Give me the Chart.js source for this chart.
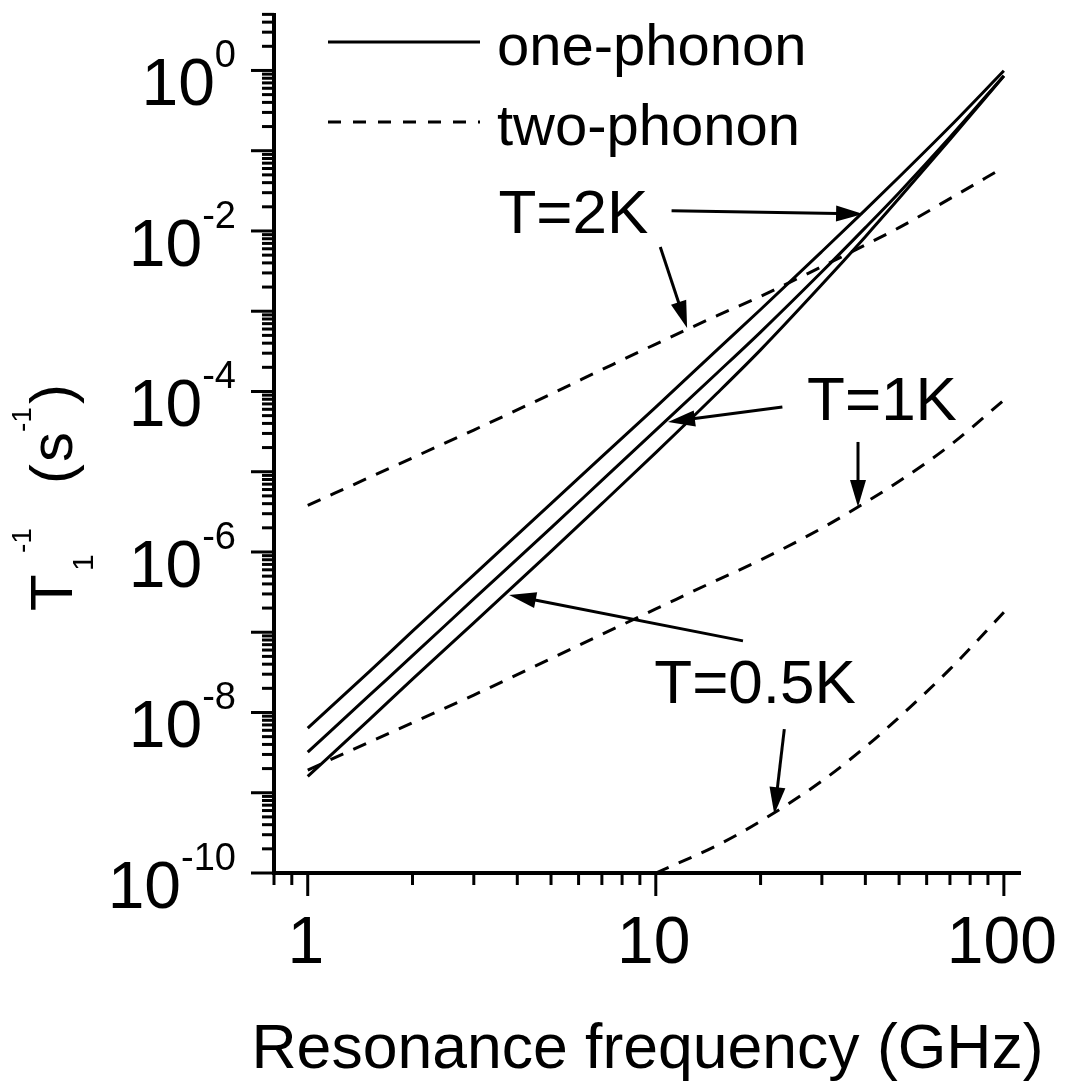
<!DOCTYPE html>
<html lang="en">
<head>
<meta charset="UTF-8" />
<title>T1 relaxation rate vs frequency</title>
<style>
  html, body { margin: 0; padding: 0; background: #fff; }
  #wrap { width: 1065px; height: 1088px; }
</style>
</head>
<body>
<div id="wrap"><canvas id="chart" width="1065" height="1088"></canvas></div>

<script src="https://cdn.jsdelivr.net/npm/chart.js"></script>
<script>
  const freq = [1, 1.5, 2, 3, 5, 7, 10, 15, 20, 30, 40, 50, 70, 100];
  // the 0.5 K two-phonon curve only enters the plot at ~10 GHz
  const freqLow = [10, 15, 20, 30, 40, 50, 70, 100];

  // one-phonon rates (s^-1)
  const onePhonon2K  = [6.4e-9, 3.2e-8, 1.03e-7, 5.2e-7, 4.0e-6, 1.54e-5, 6.4e-5, 3.3e-4, 1.05e-3, 5.55e-3, 1.83e-2, 4.7e-2, 0.20, 0.99];
  const onePhonon1K  = [3.2e-9, 1.62e-8, 5.1e-8, 2.6e-7, 2.0e-6, 7.8e-6, 3.3e-5, 1.7e-4, 5.5e-4, 3.1e-3, 1.1e-2, 3.0e-2, 0.147, 0.86];
  const onePhonon05K = [1.6e-9, 8.1e-9, 2.6e-8, 1.31e-7, 1.02e-6, 4.0e-6, 1.73e-5, 9.5e-5, 3.3e-4, 2.15e-3, 8.5e-3, 2.55e-2, 0.138, 0.85];

  // two-phonon rates (s^-1)
  const twoPhonon2K  = [3.8e-6, 8.45e-6, 1.49e-5, 3.31e-5, 9.3e-5, 1.87e-4, 3.9e-4, 8.8e-4, 1.53e-3, 3.6e-3, 6.7e-3, 1.1e-2, 2.53e-2, 6.2e-2];
  const twoPhonon1K  = [1.92e-9, 4.25e-9, 7.46e-9, 1.65e-8, 4.7e-8, 9.4e-8, 1.95e-7, 4.47e-7, 7.94e-7, 1.98e-6, 4.13e-6, 7.6e-6, 2.13e-5, 7.8e-5];
  const twoPhonon05K = [1.0e-10, 2.21e-10, 4.42e-10, 1.40e-9, 3.72e-9, 8.7e-9, 3.47e-8, 1.77e-7];

  // axis ticks
  const xMajorTicks = [1, 10, 100];
  const xMinorTicks = [0.8, 0.9, 2, 3, 4, 5, 6, 7, 8, 9, 20, 30, 40, 50, 60, 70, 80, 90];
  const yDecades = [-10, -9, -8, -7, -6, -5, -4, -3, -2, -1, 0];
  const yLabelExps = [0, -2, -4, -6, -8, -10];

  const legendItems = ['one-phonon', 'two-phonon'];

  // annotation labels and arrows, in data units (GHz, s^-1)
  const noteLabels = [
    { text: 'T=2K',   f: 3.53,  r: 9.4e-3 },
    { text: 'T=1K',   f: 27.2,  r: 4.4e-5 },
    { text: 'T=0.5K', f: 9.9,   r: 1.31e-8 }
  ];
  const noteArrows = [
    { from: [11.1, 1.78e-2], to: [39.4, 1.63e-2] },
    { from: [10.3, 6.3e-3],  to: [12.3, 6.2e-4] },
    { from: [23.1, 6.4e-5],  to: [10.84, 4.17e-5] },
    { from: [38.1, 2.35e-5], to: [38.1, 3.64e-6] },
    { from: [17.8, 7.8e-8],  to: [3.79, 2.91e-7] },
    { from: [23.4, 6.2e-9],  to: [21.9, 5.4e-10] }
  ];

  const FONT = "'Liberation Sans', Arial, Helvetica, sans-serif";
  const DASH = [14, 11];

  function toPoints(xs, ys) {
    return xs.map((f, i) => ({ x: f, y: ys[i] }));
  }

  function curve(xs, ys, dashed) {
    return {
      data: toPoints(xs, ys),
      borderColor: '#000',
      borderWidth: 3,
      borderDash: dashed ? DASH : [],
      pointRadius: 0,
      fill: false,
      cubicInterpolationMode: 'monotone'
    };
  }

  function arrow(ctx, x0, y0, x1, y1) {
    const dx = x1 - x0, dy = y1 - y0;
    const len = Math.hypot(dx, dy);
    const ux = dx / len, uy = dy / len;
    const headLen = 27, headHalf = 8;
    const bx = x1 - ux * headLen, by = y1 - uy * headLen;
    ctx.beginPath();
    ctx.moveTo(x0, y0);
    ctx.lineTo(bx + ux * 2, by + uy * 2);
    ctx.stroke();
    ctx.beginPath();
    ctx.moveTo(x1, y1);
    ctx.lineTo(bx - uy * headHalf, by + ux * headHalf);
    ctx.lineTo(bx + uy * headHalf, by - ux * headHalf);
    ctx.closePath();
    ctx.fill();
  }

  const decorPlugin = {
    id: 'decor',
    afterDraw(chart) {
      const ctx = chart.ctx;
      const sx = chart.scales.x, sy = chart.scales.y;
      const a = chart.chartArea;
      ctx.save();
      ctx.strokeStyle = '#000';
      ctx.fillStyle = '#000';

      // axis lines (left and bottom only)
      ctx.lineWidth = 4;
      ctx.beginPath();
      ctx.moveTo(a.left, a.top);
      ctx.lineTo(a.left, a.bottom);
      ctx.lineTo(a.right, a.bottom);
      ctx.stroke();

      // y ticks, pointing outwards
      ctx.lineWidth = 3;
      yDecades.forEach(e => {
        const base = Math.pow(10, e);
        const py = sy.getPixelForValue(base);
        ctx.beginPath();
        ctx.moveTo(a.left - 23, py);
        ctx.lineTo(a.left, py);
        ctx.stroke();
        for (let k = 2; k <= 9; k++) {
          const v = k * base;
          if (v > sy.max) break;
          const pm = sy.getPixelForValue(v);
          ctx.beginPath();
          ctx.moveTo(a.left - 12, pm);
          ctx.lineTo(a.left, pm);
          ctx.stroke();
        }
      });

      // x ticks
      xMajorTicks.forEach(v => {
        const px = sx.getPixelForValue(v);
        ctx.beginPath();
        ctx.moveTo(px, a.bottom);
        ctx.lineTo(px, a.bottom + 23);
        ctx.stroke();
      });
      xMinorTicks.forEach(v => {
        const px = sx.getPixelForValue(v);
        ctx.beginPath();
        ctx.moveTo(px, a.bottom);
        ctx.lineTo(px, a.bottom + 12);
        ctx.stroke();
      });

      // y tick labels: 10 with superscript exponent, right aligned
      ctx.textAlign = 'left';
      ctx.textBaseline = 'alphabetic';
      const right = a.left - 38;
      yLabelExps.forEach(e => {
        const py = sy.getPixelForValue(Math.pow(10, e));
        ctx.font = '38px ' + FONT;
        const exp = String(e);
        const ws = ctx.measureText(exp).width;
        ctx.fillText(exp, right - ws, py - 3);
        ctx.font = '66px ' + FONT;
        const wb = ctx.measureText('10').width;
        ctx.fillText('10', right - ws - wb, py + 35);
      });

      // x tick labels
      ctx.textAlign = 'center';
      ctx.font = '66px ' + FONT;
      xMajorTicks.forEach(v => {
        ctx.fillText(String(v), sx.getPixelForValue(v) - 2, a.bottom + 90);
      });

      // x axis title
      ctx.font = '62.5px ' + FONT;
      ctx.fillText('Resonance frequency (GHz)', (a.left + a.right) / 2, 1068);

      // y axis title, rotated: T_1^-1  (s^-1)
      ctx.save();
      ctx.translate(72, 611);
      ctx.rotate(-Math.PI / 2);
      ctx.textAlign = 'left';
      const big = '60px ' + FONT, sub = '30px ' + FONT, sup = '28px ' + FONT;
      const parts = [
        { t: 'T',  u: 0,   v: 0,   f: big },
        { t: '1',  u: 40,  v: 21,  f: sub },
        { t: '-1', u: 58,  v: -41, f: sup },
        { t: '(',  u: 127, v: 0,   f: big },
        { t: 's',  u: 149, v: 0,   f: big },
        { t: '-1', u: 179, v: -41, f: sup },
        { t: ')',  u: 207, v: 0,   f: big }
      ];
      parts.forEach(p => {
        ctx.font = p.f;
        ctx.fillText(p.t, p.u, p.v);
      });
      ctx.restore();

      // legend
      ctx.lineWidth = 3;
      ctx.textAlign = 'left';
      ctx.font = '58px ' + FONT;
      legendItems.forEach((name, i) => {
        const ly = 42 + i * 80;
        ctx.setLineDash(i === 0 ? [] : [13, 12]);
        ctx.beginPath();
        ctx.moveTo(328, ly);
        ctx.lineTo(480, ly);
        ctx.stroke();
        ctx.setLineDash([]);
        ctx.fillText(name, 497, ly + 23);
      });

      // annotations
      ctx.font = '62px ' + FONT;
      noteLabels.forEach(n => {
        ctx.fillText(n.text, sx.getPixelForValue(n.f), sy.getPixelForValue(n.r));
      });
      ctx.lineWidth = 3;
      noteArrows.forEach(ar => {
        arrow(ctx,
          sx.getPixelForValue(ar.from[0]), sy.getPixelForValue(ar.from[1]),
          sx.getPixelForValue(ar.to[0]), sy.getPixelForValue(ar.to[1]));
      });

      ctx.restore();
    }
  };

  new Chart(document.getElementById('chart'), {
    type: 'line',
    data: {
      datasets: [
        curve(freq, onePhonon2K, false),
        curve(freq, onePhonon1K, false),
        curve(freq, onePhonon05K, false),
        curve(freq, twoPhonon2K, true),
        curve(freq, twoPhonon1K, true),
        curve(freqLow, twoPhonon05K, true)
      ]
    },
    options: {
      responsive: false,
      animation: false,
      layout: { padding: { top: 13, right: 44, left: 0, bottom: 0 } },
      plugins: {
        legend: { display: false },
        tooltip: { enabled: false }
      },
      scales: {
        x: {
          type: 'logarithmic',
          min: 0.8,
          max: 112,
          grid: { display: false },
          border: { display: false },
          ticks: { display: false },
          afterFit: s => { s.height = 215; }
        },
        y: {
          type: 'logarithmic',
          min: 1e-10,
          max: 5.2,
          grid: { display: false },
          border: { display: false },
          ticks: { display: false },
          afterFit: s => { s.width = 274; }
        }
      }
    },
    plugins: [decorPlugin]
  });
</script>
</body>
</html>
